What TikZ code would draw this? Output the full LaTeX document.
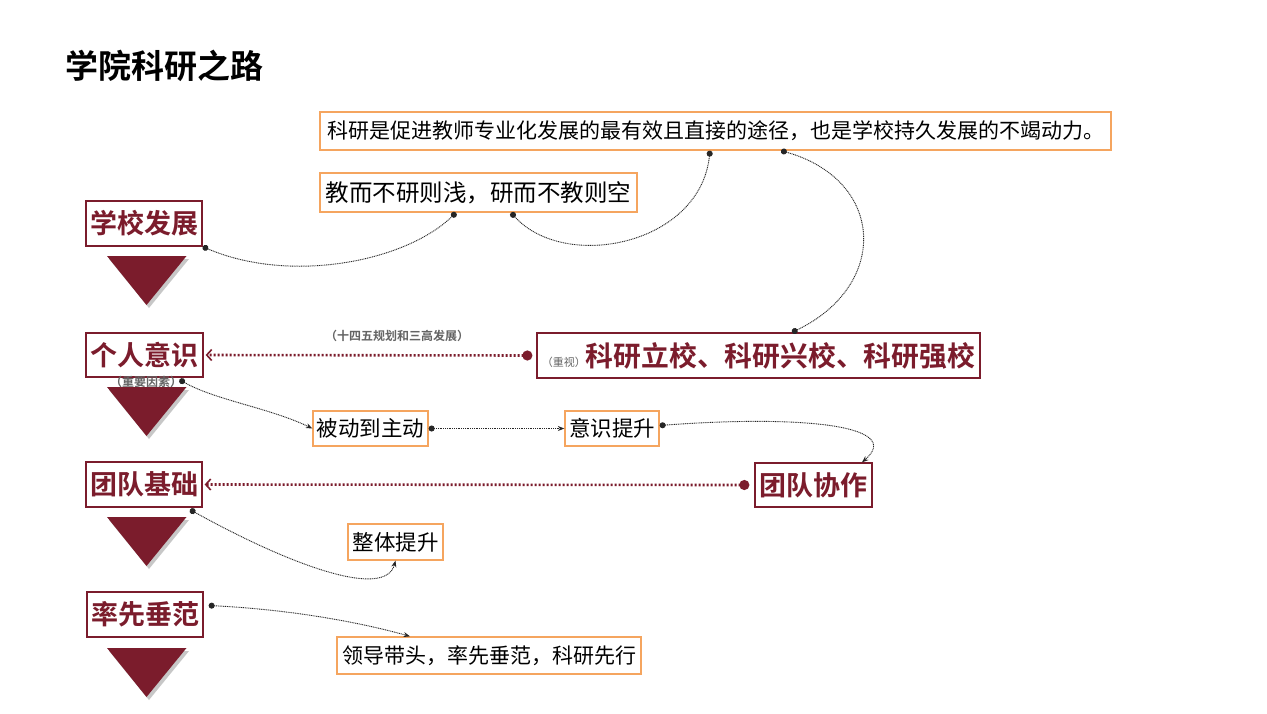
\documentclass[tikz,border=0pt]{standalone}
\usepackage{fontspec}
\setmainfont{Noto Sans CJK SC}[BoldFont={Noto Sans CJK SC Bold}]
\usetikzlibrary{arrows.meta,calc}
\definecolor{maroon}{RGB}{123,28,44}
\definecolor{orangeb}{RGB}{245,165,95}
\definecolor{greytxt}{RGB}{100,100,100}
\newcommand{\fsz}[1]{\fontsize{#1}{#1}\selectfont}
\begin{document}
\begin{tikzpicture}[x=1pt,y=-1pt,
  obox/.style={draw=orangeb, line width=1.3pt, inner sep=0pt, fill=white},
  rbox/.style={draw=maroon, line width=1.3pt, inner sep=0pt, fill=white, text=maroon, font=\bfseries\fsz{27pt}},
  conn/.style={black!85, line width=0.9pt, dash pattern=on 1pt off 0.8pt, {Circle[length=6pt]}-{Stealth[length=6.5pt,width=5pt]}},
  connd/.style={black!85, line width=0.9pt, dash pattern=on 1pt off 0.8pt, {Circle[length=6pt]}-{Circle[length=6pt]}},
  redarr/.style={maroon, line width=2.6pt, dash pattern=on 2pt off 2pt, {Circle[length=10pt]}-{Straight Barb[length=5pt,width=11pt,line width=1.6pt]}},
  tri/.style={fill=maroon},
  trishadow/.style={fill=black, opacity=0.22},
  small/.style={text=greytxt, font=\bfseries\fsz{12pt}, inner sep=0pt}]
\useasboundingbox (0,0) rectangle (1267,713);
\fill[white] (0,0) rectangle (1267,713);

% title
\node[anchor=west, inner sep=0pt, font=\bfseries\fsz{33pt}] (title) at (65,66) {学院科研之路};

% triangles
\foreach \t in {256,387,517,648}{
  \fill[trishadow] (109,\t+3) -- (189,\t+3) -- (149,\t+52) -- cycle;
  \fill[tri] (107,\t) -- (186.5,\t) -- (146.5,\t+49) -- cycle;
}

% boxes
\node[obox, minimum width=791pt, minimum height=38pt, font=\fsz{21pt}] (a) at (715.5,131) {科研是促进教师专业化发展的最有效且直接的途径，也是学校持久发展的不竭动力。};
\node[obox, minimum width=317pt, minimum height=39pt, font=\fsz{23.5pt}] (b) at (478.5,192.5) {教而不研则浅，研而不教则空};

\node[rbox, minimum width=116pt, minimum height=45pt] (p1) at (144,223.5) {学校发展};
\node[rbox, minimum width=117pt, minimum height=44pt] (p2) at (144.5,355) {个人意识};
\node[rbox, minimum width=116pt, minimum height=45pt] (p3) at (144,484.5) {团队基础};
\node[rbox, minimum width=116pt, minimum height=45pt] (p4) at (145,614.5) {率先垂范};

\node[rbox, minimum width=443pt, minimum height=45pt, font=\bfseries\fsz{27.8pt}] (k) at (758.5,355.5) {\textcolor{greytxt}{\mdseries\fsz{11pt}（重视）}科研立校、科研兴校、科研强校};
\node[small] (lbl1) at (397,336) {（十四五规划和三高发展）};
\node[small] (lbl2) at (146,382) {（重要因素）};

\node[obox, minimum width=115pt, minimum height=35pt, font=\fsz{21.5pt}] (c1) at (370.5,428.5) {被动到主动};
\node[obox, minimum width=94pt, minimum height=35pt, font=\fsz{21.5pt}] (c2) at (612,428.5) {意识提升};
\node[rbox, minimum width=117pt, minimum height=44pt] (t) at (813.5,485) {团队协作};
\node[obox, minimum width=95pt, minimum height=36pt, font=\fsz{21.5pt}] (d) at (395.5,542) {整体提升};
\node[obox, minimum width=304pt, minimum height=37pt, font=\fsz{21pt}] (e) at (489,655.5) {领导带头，率先垂范，科研先行};

% red dotted arrows
\draw[redarr] ([xshift=-4pt]k.west) -- ([xshift=2pt]p2.east);
\draw[redarr] ([xshift=-5pt]t.west) -- ([xshift=2pt]p3.east);

% thin dotted connectors
\draw[connd] (p1.south east) .. controls (290,284) and (405,262) .. ([xshift=-22.5pt]b.south);
\draw[connd] ([xshift=32.5pt]b.south) .. controls (565,272) and (700,245) .. ([xshift=-5.5pt]a.south);
\draw[connd] ([xshift=65.5pt]a.south) .. controls (885,180) and (890,285) .. ([xshift=33.5pt]k.north);
\draw[conn] ([xshift=35pt,yshift=-2pt]p2.south) .. controls (215,400) and (270,408) .. (c1.west);
\draw[conn] (c1.east) -- (c2.west);
\draw[conn] ([yshift=3pt]c2.east) .. controls (800,415) and (905,425) .. ([xshift=48.5pt]t.north);
\draw[conn] ([xshift=46pt,yshift=-2pt]p3.south) .. controls (290,565) and (385,600) .. (d.south);
\draw[conn] ([xshift=5pt,yshift=9pt]p4.east) .. controls (300,610) and (370,625) .. ([xshift=-79pt]e.north);
\end{tikzpicture}
\end{document}
